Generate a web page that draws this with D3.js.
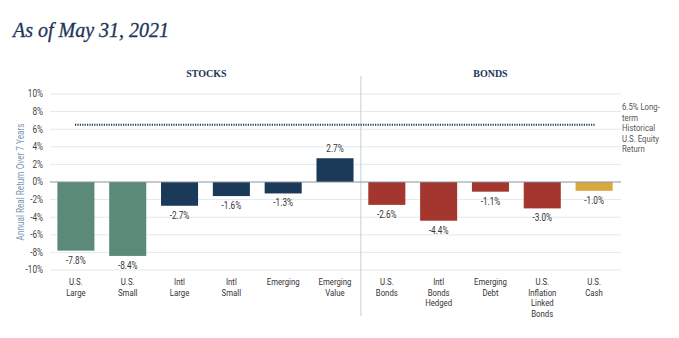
<!DOCTYPE html>
<html>
<head>
<meta charset="utf-8">
<script src="https://cdn.jsdelivr.net/npm/d3@7"></script>
<style>
  body { margin: 0; background: #fff; }
  svg { display: block; }
  text { font-family: "Roboto", "Liberation Sans", sans-serif; }
</style>
</head>
<body>
<svg id="chart"></svg>
<script>
// asset classes, left to right
var categories = ['U.S. Large', 'U.S. Small', 'Intl Large', 'Intl Small', 'Emerging', 'Emerging Value',
                  'U.S. Bonds', 'Intl Bonds Hedged', 'Emerging Debt', 'U.S. Inflation Linked Bonds', 'U.S. Cash'];
var labelLines = [['U.S.', 'Large'], ['U.S.', 'Small'], ['Intl', 'Large'], ['Intl', 'Small'], ['Emerging'],
                  ['Emerging', 'Value'], ['U.S.', 'Bonds'], ['Intl', 'Bonds', 'Hedged'], ['Emerging', 'Debt'],
                  ['U.S.', 'Inflation', 'Linked', 'Bonds'], ['U.S.', 'Cash']];
var returns = [-7.8, -8.4, -2.7, -1.6, -1.3, 2.7, -2.6, -4.4, -1.1, -3.0, -1.0];
var groups = ['us', 'us', 'intl', 'intl', 'intl', 'intl', 'bond', 'bond', 'bond', 'bond', 'cash'];
var yTicks = [10, 8, 6, 4, 2, 0, -2, -4, -6, -8, -10];
var equityLongTerm = 6.5;
var noteLines = ['6.5% Long-', 'term', 'Historical', 'U.S. Equity', 'Return'];

var width = 679, height = 338;
// squeeze factor standing in for a condensed face
var squeeze = 0.82;
var lineGap = 10.6;

var colors = { us: '#5b8a78', intl: '#1b3a59', bond: '#a3372f', cash: '#d7a83c' };

var svg = d3.select('#chart')
  .attr('width', width)
  .attr('height', height);

var x = d3.scaleBand()
  .domain(categories)
  .range([50, 620])
  .paddingInner(0.285)
  .paddingOuter(0.1425);

var y = d3.scaleLinear()
  .domain([-10, 10])
  .range([270, 94]);

function narrow(ax) {
  return 'translate(' + ax + ',0) scale(' + squeeze + ',1) translate(' + (-ax) + ',0)';
}

// title
svg.append('text')
  .attr('x', 13).attr('y', 37)
  .style('font-family', '"Liberation Serif", "DejaVu Serif", serif')
  .attr('font-style', 'italic')
  .attr('font-size', 20)
  .attr('fill', '#1d3557')
  .attr('stroke', '#1d3557')
  .attr('stroke-width', 0.3)
  .text('As of May 31, 2021');

// gridlines
svg.append('g')
  .selectAll('line')
  .data(yTicks.filter(function (d) { return d !== 0; }))
  .enter().append('line')
    .attr('x1', 50).attr('x2', 621)
    .attr('y1', function (d) { return y(d); })
    .attr('y2', function (d) { return y(d); })
    .attr('stroke', '#dfebee')
    .attr('stroke-width', 1);

// y tick labels
svg.append('g')
  .attr('transform', narrow(43))
  .selectAll('text')
  .data(yTicks)
  .enter().append('text')
    .attr('x', 43)
    .attr('y', function (d) { return y(d) + 3.5; })
    .attr('text-anchor', 'end')
    .attr('font-size', 10)
    .attr('fill', '#444')
    .text(function (d) { return d + '%'; });

// y axis title
svg.append('text')
  .attr('transform', 'translate(24,' + y(0) + ') rotate(-90) scale(' + squeeze + ',1)')
  .attr('text-anchor', 'middle')
  .attr('font-size', 10)
  .attr('fill', '#7b97b2')
  .text('Annual Real Return Over 7 Years');

// section divider
var divX = (x('Emerging Value') + x.bandwidth() + x('U.S. Bonds')) / 2;
svg.append('line')
  .attr('x1', divX).attr('x2', divX)
  .attr('y1', 76).attr('y2', 316)
  .attr('stroke', '#c9cfd4')
  .attr('stroke-width', 1);

// section headers
var sections = [
  { name: 'STOCKS', from: 'U.S. Large', to: 'Emerging Value' },
  { name: 'BONDS', from: 'U.S. Bonds', to: 'U.S. Cash' }
];
svg.append('g')
  .selectAll('text')
  .data(sections)
  .enter().append('text')
    .attr('x', function (d) { return (x(d.from) + x(d.to) + x.bandwidth()) / 2 + (d.name === 'STOCKS' ? 1 : 0); })
    .attr('y', 77)
    .attr('text-anchor', 'middle')
    .style('font-family', '"Liberation Serif", "DejaVu Serif", serif')
    .attr('font-weight', 'bold')
    .attr('font-size', 10)
    .attr('fill', '#1d3557')
    .text(function (d) { return d.name; });

// bars
svg.append('g')
  .selectAll('rect')
  .data(returns)
  .enter().append('rect')
    .attr('x', function (d, i) { return x(categories[i]); })
    .attr('width', x.bandwidth())
    .attr('y', function (d) { return y(Math.max(0, d)); })
    .attr('height', function (d) { return Math.abs(y(d) - y(0)); })
    .attr('fill', function (d, i) { return colors[groups[i]]; });

// zero line
svg.append('line')
  .attr('x1', 50).attr('x2', 621)
  .attr('y1', y(0)).attr('y2', y(0))
  .attr('stroke', '#8a949c')
  .attr('stroke-width', 1);

// long-term equity return reference
svg.append('line')
  .attr('x1', 75).attr('x2', 595)
  .attr('y1', y(equityLongTerm)).attr('y2', y(equityLongTerm))
  .attr('stroke', '#1b3a59')
  .attr('stroke-width', 2)
  .attr('stroke-dasharray', '1.2,1.2');

svg.append('text')
  .attr('transform', narrow(622))
  .attr('font-size', 9.5)
  .attr('fill', '#555')
  .selectAll('tspan')
  .data(noteLines)
  .enter().append('tspan')
    .attr('x', 622)
    .attr('y', function (d, i) { return 110 + i * lineGap; })
    .text(function (d) { return d; });

// value labels
svg.append('g')
  .selectAll('text')
  .data(returns)
  .enter().append('text')
    .attr('transform', function (d, i) { return narrow(x(categories[i]) + x.bandwidth() / 2); })
    .attr('x', function (d, i) { return x(categories[i]) + x.bandwidth() / 2; })
    .attr('y', function (d) { return d >= 0 ? y(d) - 6 : y(d) + 13; })
    .attr('text-anchor', 'middle')
    .attr('font-size', 10)
    .attr('fill', '#333')
    .text(function (d) { return d.toFixed(1) + '%'; });

// category labels
var cat = svg.append('g')
  .selectAll('text')
  .data(labelLines)
  .enter().append('text')
    .attr('transform', function (d, i) { return narrow(x(categories[i]) + x.bandwidth() / 2); })
    .attr('text-anchor', 'middle')
    .attr('font-size', 9.5)
    .attr('fill', '#333');

cat.selectAll('tspan')
  .data(function (d, i) { return d.map(function (t) { return { t: t, i: i }; }); })
  .enter().append('tspan')
    .attr('x', function (d) { return x(categories[d.i]) + x.bandwidth() / 2; })
    .attr('y', function (d, j) { return 285 + j * lineGap; })
    .text(function (d) { return d.t; });
</script>
</body>
</html>
